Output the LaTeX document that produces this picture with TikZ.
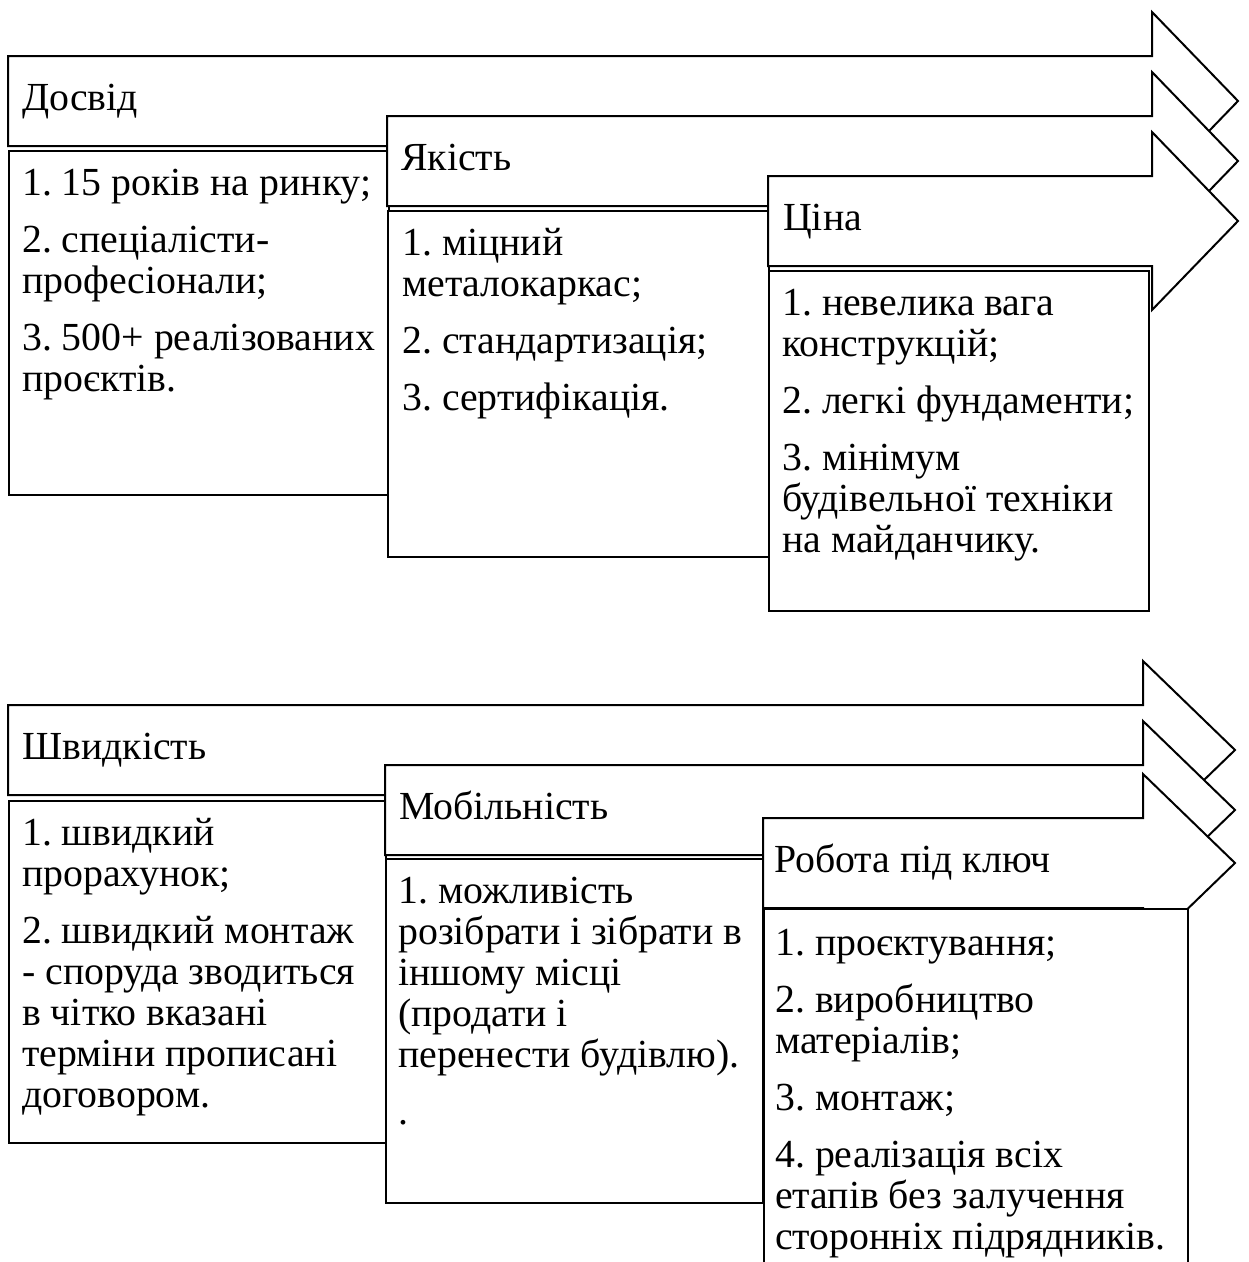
\documentclass[tikz,border=0pt]{standalone}
\usepackage{fontspec}
\setmainfont{Liberation Serif}
\newcommand\bodyfont{\fontsize{39.8pt}{41pt}\selectfont\frenchspacing}
\newcommand\bigarrow[4]{%
  \draw[outl] ({#1},{#2-45}) -- ({#3},{#2-45}) -- ({#3},{#2-89}) -- ({#4},{#2})
    -- ({#3},{#2+89}) -- ({#3},{#2+45}) -- ({#1},{#2+45}) -- cycle;}
\begin{document}
\begin{tikzpicture}[x=1pt,y=-1pt,
  outl/.style={draw=black,line width=2pt,fill=white,line join=miter},
  cbox/.style={outl,rectangle,inner sep=0pt,anchor=north west},
  hdr/.style={anchor=base west,inner sep=0pt,font=\bodyfont},
  txt/.style={anchor=north west,inner sep=0pt,align=left,font=\bodyfont}]
\useasboundingbox (0,0) rectangle (1249,1262);
\clip (0,0) rectangle (1249,1262);

% ---------- top group ----------
\bigarrow{8}{101}{1152}{1238}
\node[hdr] (h1) at (22,110) {Досвід};
\node[cbox,minimum width=380pt,minimum height=344pt] (c1) at (8,150) {};
\node[txt] (t1) at (22,166.3) {\strut 1. 15 років на ринку;\\[16pt]2. спеціалісти-\\професіонали;\\[16pt]3. 500+ реалізованих\\проєктів.};

\bigarrow{387}{161}{1152}{1238}
\node[hdr] (h2) at (401,170) {Якість};
\node[cbox,minimum width=381pt,minimum height=346pt] (c2) at (387,210) {};
\node[txt] (t2) at (402,226.3) {\strut 1. міцний\\металокаркас;\\[16pt]2. стандартизація;\\[16pt]3. сертифікація.};

\bigarrow{768}{221}{1152}{1238}
\node[hdr] (h3) at (783,230) {Ціна};
\node[cbox,minimum width=380pt,minimum height=340pt] (c3) at (768,270) {};
\node[txt] (t3) at (782,286.3) {\strut 1. невелика вага\\конструкцій;\\[16pt]2. легкі фундаменти;\\[16pt]3. мінімум\\будівельної техніки\\на майданчику.};

% ---------- bottom group ----------
\bigarrow{8}{750}{1143}{1235}
\node[hdr] (h4) at (22,759) {Швидкість};
\node[cbox,minimum width=377pt,minimum height=342pt] (c4) at (8,800) {};
\node[txt] (t4) at (22,816.3) {\strut 1. швидкий\\прорахунок;\\[16pt]2. швидкий монтаж\\- споруда зводиться\\в чітко вказані\\терміни прописані\\договором.};

\bigarrow{385}{810}{1143}{1235}
\node[hdr] (h5) at (399,819) {Мобільність};
\node[cbox,minimum width=377pt,minimum height=344pt] (c5) at (385,858) {};
\node[txt] (t5) at (398,874.3) {\strut 1. можливість\\розібрати і зібрати в\\іншому місці\\(продати і\\перенести будівлю).\\[16pt].};

\bigarrow{763}{863}{1143}{1235}
\node[hdr] (h6) at (774,872) {Робота під ключ};
\node[cbox,minimum width=424pt,minimum height=420pt] (c6) at (763,908) {};
\node[txt] (t6) at (775,926.3) {\strut 1. проєктування;\\[16pt]2. виробництво\\матеріалів;\\[16pt]3. монтаж;\\[16pt]4. реалізація всіх\\етапів без залучення\\сторонніх підрядників.};
\end{tikzpicture}
\end{document}
